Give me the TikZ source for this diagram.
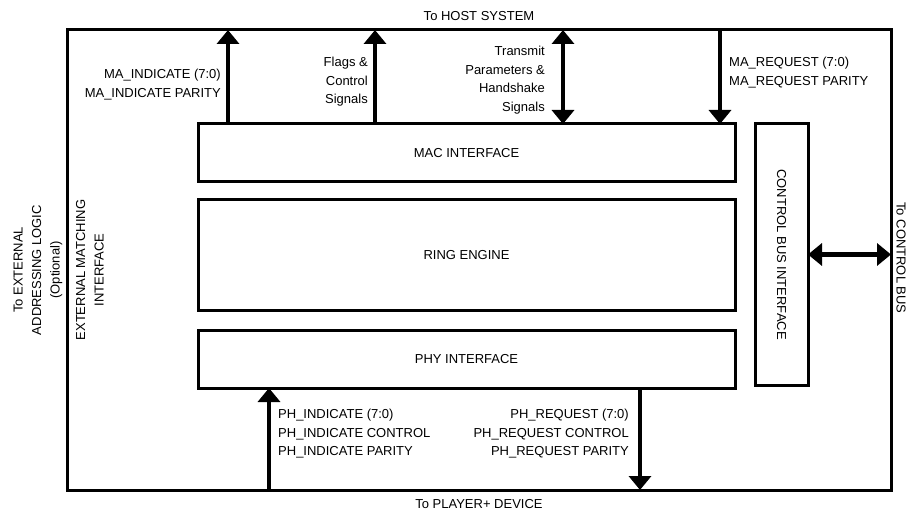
\documentclass[tikz,border=0pt]{standalone}
\usepackage{fontspec}
\setmainfont{Liberation Sans}
\usetikzlibrary{arrows.meta}
\begin{document}
\begin{tikzpicture}[x=1pt,y=-1pt,
  box/.style={draw,line width=3pt,rectangle,inner sep=0pt,outer sep=0pt},
  lbl/.style={font=\fontsize{13}{18.5}\selectfont,inner sep=0pt,align=#1},
  lbl/.default=center,
  sig/.style={line width=4.5pt,-{Triangle[width=22pt,length=14pt]}},
  sig2/.style={line width=4.5pt,{Triangle[width=22pt,length=14pt]}-{Triangle[width=22pt,length=14pt]}}]
\useasboundingbox (0,0) rectangle (913,513);
% boxes
\node[box,minimum width=824pt,minimum height=460pt] (outer) at (479,260) {};
\node[box,minimum width=537pt,minimum height=58pt] (mac) at (466.5,153) {};
\node[box,minimum width=537pt,minimum height=110pt] (ring) at (466.5,255) {};
\node[box,minimum width=537pt,minimum height=58pt] (phy) at (466.5,359) {};
\node[box,minimum width=53pt,minimum height=261pt] (cbi) at (781.5,254.5) {};
% box labels
\node[lbl] (macl) at (mac) {MAC INTERFACE};
\node[lbl] (ringl) at (ring) {RING ENGINE};
\node[lbl] (phyl) at (phy) {PHY INTERFACE};
\node[lbl,rotate=-90] (cbil) at (cbi) {CONTROL BUS INTERFACE};
% x positions
\coordinate (xa) at (228,0);
\coordinate (xb) at (375,0);
\coordinate (xc) at (563,0);
\coordinate (xd) at (720,0);
\coordinate (xe) at (269,0);
\coordinate (xf) at (640,0);
% connectors
\draw[sig] (mac.north -| xa) -- (outer.north -| xa);
\draw[sig] (mac.north -| xb) -- (outer.north -| xb);
\draw[sig2] (mac.north -| xc) -- (outer.north -| xc);
\draw[sig] (outer.north -| xd) -- (mac.north -| xd);
\draw[sig] (outer.south -| xe) -- (phy.south -| xe);
\draw[sig] (phy.south -| xf) -- (outer.south -| xf);
\draw[sig2] (cbi.east) -- (cbi.east -| outer.east);
% labels
\node[lbl=right,anchor=north east] (t1) at (221,69) {MA\_INDICATE (7:0)\\MA\_INDICATE PARITY};
\node[lbl=right,anchor=north east] (t2) at (368,57) {Flags \&\\Control\\Signals};
\node[lbl=right,anchor=north east] (t3) at (545,46) {Transmit\\Parameters \&\\Handshake\\Signals};
\node[lbl=left,anchor=north west] (t4) at (729,57) {MA\_REQUEST (7:0)\\MA\_REQUEST PARITY};
\node[lbl=left,anchor=north west] (t5) at (278,409) {PH\_INDICATE (7:0)\\PH\_INDICATE CONTROL\\PH\_INDICATE PARITY};
\node[lbl=right,anchor=north east] (t6) at (629,409) {PH\_REQUEST (7:0)\\PH\_REQUEST CONTROL\\PH\_REQUEST PARITY};
\node[lbl] (host) at (479,16) {To HOST SYSTEM};
\node[lbl] (player) at (479,504) {To PLAYER+ DEVICE};
\node[lbl,rotate=90] (ext) at (38,270) {To EXTERNAL\\ADDRESSING LOGIC\\(Optional)};
\node[lbl,rotate=90] (emi) at (90,270) {EXTERNAL MATCHING\\INTERFACE};
\node[lbl,rotate=-90] (cb) at (901,258) {To CONTROL BUS};
\end{tikzpicture}
\end{document}
